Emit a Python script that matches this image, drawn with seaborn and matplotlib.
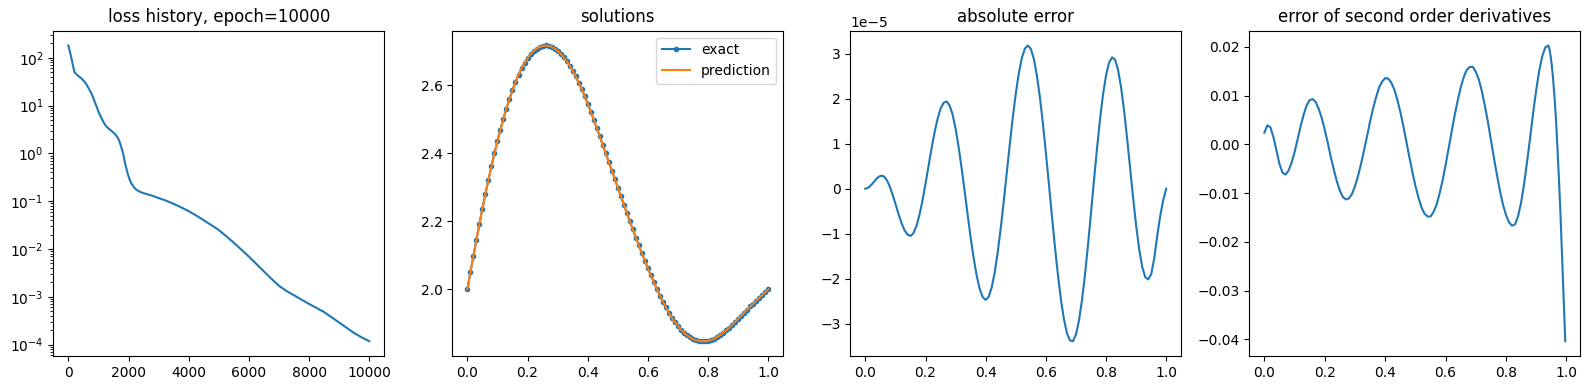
import numpy as np
import seaborn as sns
import matplotlib
matplotlib.use('Agg')
import matplotlib.pyplot as plt

# loss history as log10(loss)
epochs = [0, 50, 100, 150, 200, 230, 270, 350, 430, 520, 600, 680, 770, 850, 930,
          1010, 1100, 1180, 1260, 1370, 1490, 1570, 1650, 1710, 1760, 1820, 1870,
          1930, 1980, 2040, 2100, 2180, 2260, 2370, 2480, 2650, 2800, 3000, 3250,
          3500, 3750, 4000, 4250, 4500, 4750, 5000, 5250, 5500, 5750, 6000, 6250,
          6500, 6750, 7000, 7250, 7500, 7750, 8000, 8250, 8500, 8750, 9000, 9250,
          9500, 9750, 10000]
log_loss = [2.257, 2.13, 2.0, 1.85, 1.709, 1.68, 1.653, 1.61, 1.570, 1.51, 1.445, 1.355,
            1.251, 1.12, 0.994, 0.86, 0.738, 0.64, 0.564, 0.50, 0.44, 0.39, 0.32, 0.23,
            0.127, 0.0, -0.164, -0.32, -0.441, -0.55, -0.635, -0.71, -0.76, -0.80, -0.829,
            -0.86, -0.89, -0.935, -0.99, -1.055, -1.13, -1.21, -1.30, -1.40, -1.50, -1.605,
            -1.735, -1.87, -2.015, -2.16, -2.315, -2.47, -2.625, -2.77, -2.88, -2.97,
            -3.06, -3.15, -3.235, -3.32, -3.43, -3.54, -3.65, -3.76, -3.85, -3.93]
loss = 10 ** np.array(log_loss)

# grid for the solution / error panels
x = np.round(np.linspace(0, 1, 101), 2)

u_exact = [2.000, 2.050, 2.097, 2.145, 2.192, 2.237, 2.280, 2.321, 2.361, 2.399,
           2.435, 2.469, 2.501, 2.531, 2.559, 2.585, 2.609, 2.630, 2.649, 2.665,
           2.679, 2.691, 2.700, 2.707, 2.712, 2.715, 2.716, 2.715, 2.712, 2.707,
           2.700, 2.692, 2.682, 2.670, 2.657, 2.642, 2.625, 2.607, 2.588, 2.567,
           2.545, 2.522, 2.498, 2.474, 2.449, 2.424, 2.399, 2.374, 2.349, 2.324,
           2.299, 2.274, 2.249, 2.224, 2.200, 2.176, 2.152, 2.129, 2.106, 2.084,
           2.062, 2.041, 2.021, 2.001, 1.982, 1.964, 1.947, 1.931, 1.916, 1.904,
           1.893, 1.882, 1.873, 1.865, 1.859, 1.854, 1.851, 1.849, 1.848, 1.848,
           1.849, 1.851, 1.855, 1.860, 1.866, 1.873, 1.880, 1.888, 1.896, 1.905,
           1.914, 1.923, 1.932, 1.941, 1.950, 1.958, 1.967, 1.975, 1.984, 1.992,
           2.000]
# prediction sits on top of the exact curve at this scale
u_pred = list(u_exact)

# absolute error, in units of 1e-5
abs_err = [0.000, 0.023, 0.085, 0.166, 0.240, 0.284, 0.281, 0.208, 0.069, -0.119,
           -0.335, -0.557, -0.759, -0.920, -1.020, -1.050, -0.987, -0.826, -0.578, -0.258,
           0.112, 0.503, 0.892, 1.248, 1.551, 1.776, 1.907, 1.938, 1.850, 1.645,
           1.331, 0.926, 0.456, -0.056, -0.580, -1.087, -1.542, -1.932, -2.225, -2.408,
           -2.470, -2.399, -2.190, -1.854, -1.405, -0.871, -0.275, 0.355, 0.985, 1.581,
           2.115, 2.564, 2.900, 3.109, 3.180, 3.105, 2.881, 2.518, 2.036, 1.453,
           0.798, 0.104, -0.607, -1.288, -1.913, -2.462, -2.900, -3.209, -3.370, -3.387,
           -3.236, -2.926, -2.474, -1.905, -1.245, -0.531, 0.199, 0.904, 1.549, 2.098,
           2.519, 2.800, 2.917, 2.863, 2.634, 2.243, 1.725, 1.110, 0.450, -0.210,
           -0.822, -1.343, -1.733, -1.963, -2.015, -1.900, -1.550, -1.050, -0.600, -0.250,
           0.000]
abs_err = np.array(abs_err) * 1e-5

# error of second order derivatives (finer readings near the right end)
x_d2 = list(x[:94]) + [0.94, 0.945, 0.95, 0.955, 0.96, 0.965, 0.97, 0.975,
                       0.98, 0.985, 0.99, 0.993, 0.996]
d2_err = [0.0024, 0.0039, 0.0035, 0.0015, -0.0012, -0.0040, -0.0058, -0.0062, -0.0054, -0.0038,
          -0.0016, 0.0010, 0.0037, 0.0061, 0.0080, 0.0091, 0.0093, 0.0087, 0.0073, 0.0054,
          0.0030, 0.0003, -0.0026, -0.0052, -0.0076, -0.0095, -0.0108, -0.0113, -0.0111, -0.0102,
          -0.0086, -0.0065, -0.0040, -0.0012, 0.0017, 0.0047, 0.0074, 0.0097, 0.0117, 0.0129,
          0.0136, 0.0135, 0.0127, 0.0113, 0.0092, 0.0067, 0.0038, 0.0006, -0.0026, -0.0057,
          -0.0085, -0.0109, -0.0129, -0.0142, -0.0148, -0.0148, -0.0139, -0.0124, -0.0101, -0.0074,
          -0.0042, -0.0008, 0.0026, 0.0060, 0.0090, 0.0117, 0.0138, 0.0153, 0.0159, 0.0159,
          0.0149, 0.0133, 0.0109, 0.0079, 0.0046, 0.0009, -0.0028, -0.0063, -0.0096, -0.0124,
          -0.0145, -0.0160, -0.0167, -0.0164, -0.0147, -0.0119, -0.0080, -0.0034, 0.0015, 0.0066,
          0.0112, 0.0152, 0.0181, 0.0199,
          0.0203, 0.0192, 0.0170, 0.0140, 0.0101, 0.0055, -0.0005, -0.0070,
          -0.0140, -0.0222, -0.0305, -0.0355, -0.0404]

blue = '#1f77b4'
orange = '#ff7f0e'

fig = plt.figure(figsize=(15.9, 3.9), dpi=100)
W, H = 1590, 390
lefts = [53.3, 452.3, 850.3, 1249.3]
axes = [fig.add_axes([l / W, (H - 356) / H, 331 / W, 325.3 / H]) for l in lefts]

# loss history
ax = axes[0]
sns.lineplot(x=epochs, y=loss, ax=ax, color=blue, linewidth=1.5)
ax.set_yscale('log')
ax.set_title('loss history, epoch=10000')

# solutions
ax = axes[1]
sns.lineplot(x=x, y=u_exact, ax=ax, color=blue, marker='.', markersize=6,
             markeredgecolor=blue, markeredgewidth=1.0, linewidth=1.5, label='exact')
sns.lineplot(x=x, y=u_pred, ax=ax, color=orange, linewidth=1.5, label='prediction')
ax.legend(loc='upper right')
ax.set_title('solutions')

# absolute error
ax = axes[2]
sns.lineplot(x=x, y=abs_err, ax=ax, color=blue, linewidth=1.5)
ax.set_title('absolute error')

# second order derivative error
ax = axes[3]
sns.lineplot(x=x_d2, y=d2_err, ax=ax, color=blue, linewidth=1.5)
ax.set_title('error of second order derivatives')

fig.savefig('out.png', dpi=100)
